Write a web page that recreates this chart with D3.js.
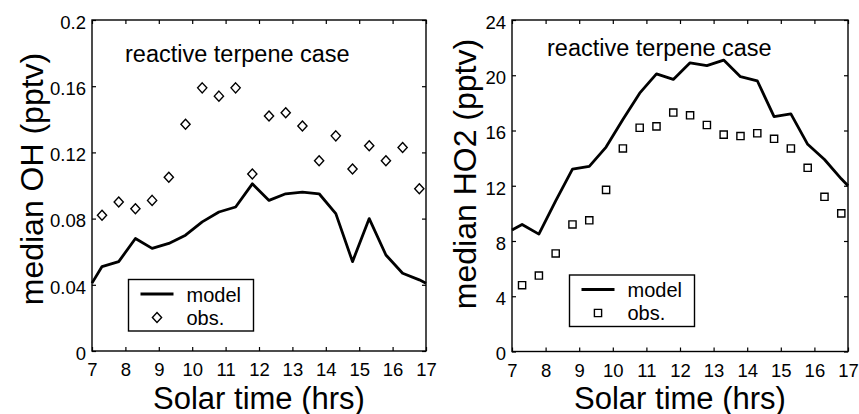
<!DOCTYPE html>
<html>
<head>
<meta charset="utf-8">
<script src="https://cdn.jsdelivr.net/npm/d3@7"></script>
<style>
  html, body { margin: 0; padding: 0; background: #fff; }
  svg { display: block; font-family: "Liberation Sans", Arial, Helvetica, sans-serif; }
</style>
</head>
<body>
<svg id="chart" width="859" height="414"></svg>
<script>
// solar time (hrs) of the observation bins
const obsTimes = [7.3, 7.8, 8.3, 8.8, 9.3, 9.8, 10.3, 10.8, 11.3, 11.8,
  12.3, 12.8, 13.3, 13.8, 14.3, 14.8, 15.3, 15.8, 16.3, 16.8];
// model output runs to the plot edges
const modelTimes = [7.0, 7.3, 7.8, 8.3, 8.8, 9.3, 9.8, 10.3, 10.8, 11.3, 11.8,
  12.3, 12.8, 13.3, 13.8, 14.3, 14.8, 15.3, 15.8, 16.3, 16.8, 17.0];

const ohObs = [0.082, 0.090, 0.086, 0.091, 0.105, 0.137, 0.159, 0.154, 0.159, 0.107,
  0.142, 0.144, 0.136, 0.115, 0.130, 0.110, 0.124, 0.115, 0.123, 0.098];
const ohModel = [0.041, 0.051, 0.054, 0.068, 0.062, 0.065, 0.070, 0.078, 0.084, 0.087, 0.101,
  0.091, 0.095, 0.096, 0.095, 0.083, 0.054, 0.080, 0.058, 0.047, 0.043, 0.041];

const ho2Obs = [4.8, 5.5, 7.1, 9.2, 9.5, 11.7, 14.7, 16.2, 16.3, 17.3,
  17.1, 16.4, 15.7, 15.6, 15.8, 15.4, 14.7, 13.3, 11.2, 10.0];
const ho2Model = [8.8, 9.2, 8.5, 10.9, 13.2, 13.4, 14.8, 16.8, 18.7, 20.1, 19.7,
  20.9, 20.7, 21.1, 19.9, 19.6, 17.0, 17.2, 15.0, 13.9, 12.5, 12.0];

const xTicks = [7, 8, 9, 10, 11, 12, 13, 14, 15, 16, 17];
const ohTicks = [0, 0.04, 0.08, 0.12, 0.16, 0.2];
const ho2Ticks = [0, 4, 8, 12, 16, 20, 24];

const svg = d3.select("#chart");

const diamondPath = "M0,-5 L4.6,0 L0,5 L-4.6,0 Z";
const squarePath = "M-3.6,-3.6 H3.6 V3.6 H-3.6 Z";

function drawPanel(p) {
  const x = d3.scaleLinear().domain([7, 17]).range([p.left, p.right]);
  const y = d3.scaleLinear().domain(p.yDomain).range([p.bottom, p.top]);
  const g = svg.append("g");

  const fmtY = (d) => (d === 0 ? "0" : p.yFormat(d));

  // inward ticks on all four sides
  const axB = g.append("g").attr("transform", `translate(0,${p.bottom})`)
    .call(d3.axisBottom(x).tickValues(xTicks).tickFormat(d3.format("d"))
      .tickSizeInner(-4).tickSizeOuter(0).tickPadding(12));
  const axT = g.append("g").attr("transform", `translate(0,${p.top})`)
    .call(d3.axisTop(x).tickValues(xTicks).tickFormat("").tickSizeInner(-4).tickSizeOuter(0));
  const axL = g.append("g").attr("transform", `translate(${p.left},0)`)
    .call(d3.axisLeft(y).tickValues(p.yTicks).tickFormat(fmtY)
      .tickSizeInner(-4).tickSizeOuter(0).tickPadding(6));
  const axR = g.append("g").attr("transform", `translate(${p.right},0)`)
    .call(d3.axisRight(y).tickValues(p.yTicks).tickFormat("").tickSizeInner(-4).tickSizeOuter(0));

  [axB, axT, axL, axR].forEach((a) => {
    a.select(".domain").remove();
    a.selectAll("line").attr("stroke", "#000").attr("stroke-width", 1.2);
    a.selectAll("text").attr("fill", "#000").style("font-size", "18.5px")
      .style("font-family", '"Liberation Sans", Arial, sans-serif');
  });
  axL.selectAll("text").attr("dy", "0.45em");

  g.append("rect")
    .attr("x", p.left).attr("y", p.top)
    .attr("width", p.right - p.left).attr("height", p.bottom - p.top)
    .attr("fill", "none").attr("stroke", "#000").attr("stroke-width", 1.4);

  // model line
  const line = d3.line().x((d) => x(d[0])).y((d) => y(d[1]));
  g.append("path")
    .datum(modelTimes.map((t, i) => [t, p.model[i]]))
    .attr("d", line)
    .attr("fill", "none").attr("stroke", "#000").attr("stroke-width", 2.8)
    .attr("stroke-linejoin", "round");

  // observations
  g.selectAll(".obs")
    .data(obsTimes.map((t, i) => [t, p.obs[i]]))
    .join("path")
    .attr("class", "obs")
    .attr("d", p.marker)
    .attr("transform", (d) => `translate(${x(d[0])},${y(d[1])})`)
    .attr("fill", "#fff").attr("stroke", "#000").attr("stroke-width", 1.4);

  // case label
  g.append("text")
    .attr("x", p.titleX).attr("y", p.titleY)
    .style("font-size", "23.5px")
    .text("reactive terpene case");

  // axis titles
  g.append("text")
    .attr("x", (p.left + p.right) / 2).attr("y", 408.5)
    .attr("text-anchor", "middle")
    .style("font-size", "31px")
    .text("Solar time (hrs)");
  g.append("text")
    .attr("transform", `translate(${p.yTitleX},${p.yTitleY}) rotate(-90)`)
    .attr("text-anchor", "middle")
    .style("font-size", "32px")
    .text(p.yTitle);

  // legend
  const lg = g.append("g").attr("transform", `translate(${p.legX},${p.legY})`);
  lg.append("rect").attr("width", 125).attr("height", 51.5)
    .attr("fill", "#fff").attr("stroke", "#000").attr("stroke-width", 1.4);
  lg.append("line").attr("x1", 12).attr("x2", 45).attr("y1", 14.5).attr("y2", 14.5)
    .attr("stroke", "#000").attr("stroke-width", 2.8);
  lg.append("path").attr("d", p.marker).attr("transform", "translate(28.5,38)")
    .attr("fill", "#fff").attr("stroke", "#000").attr("stroke-width", 1.4);
  lg.append("text").attr("x", 58).attr("y", 22).style("font-size", "20px").text("model");
  lg.append("text").attr("x", 58).attr("y", 45).style("font-size", "20px").text("obs.");
}

drawPanel({
  left: 92, right: 426, top: 20, bottom: 351,
  yDomain: [0, 0.2], yTicks: ohTicks, yFormat: d3.format(".2~f"),
  obs: ohObs, model: ohModel, marker: diamondPath,
  titleX: 125, titleY: 62,
  yTitle: "median OH (pptv)", yTitleX: 43, yTitleY: 179,
  legX: 128.5, legY: 279.5
});

drawPanel({
  left: 512, right: 848, top: 20, bottom: 351.5,
  yDomain: [0, 24], yTicks: ho2Ticks, yFormat: d3.format("d"),
  obs: ho2Obs, model: ho2Model, marker: squarePath,
  titleX: 547, titleY: 56,
  yTitle: "median HO2 (pptv)", yTitleX: 476, yTitleY: 174,
  legX: 569.5, legY: 275
});
</script>
</body>
</html>
